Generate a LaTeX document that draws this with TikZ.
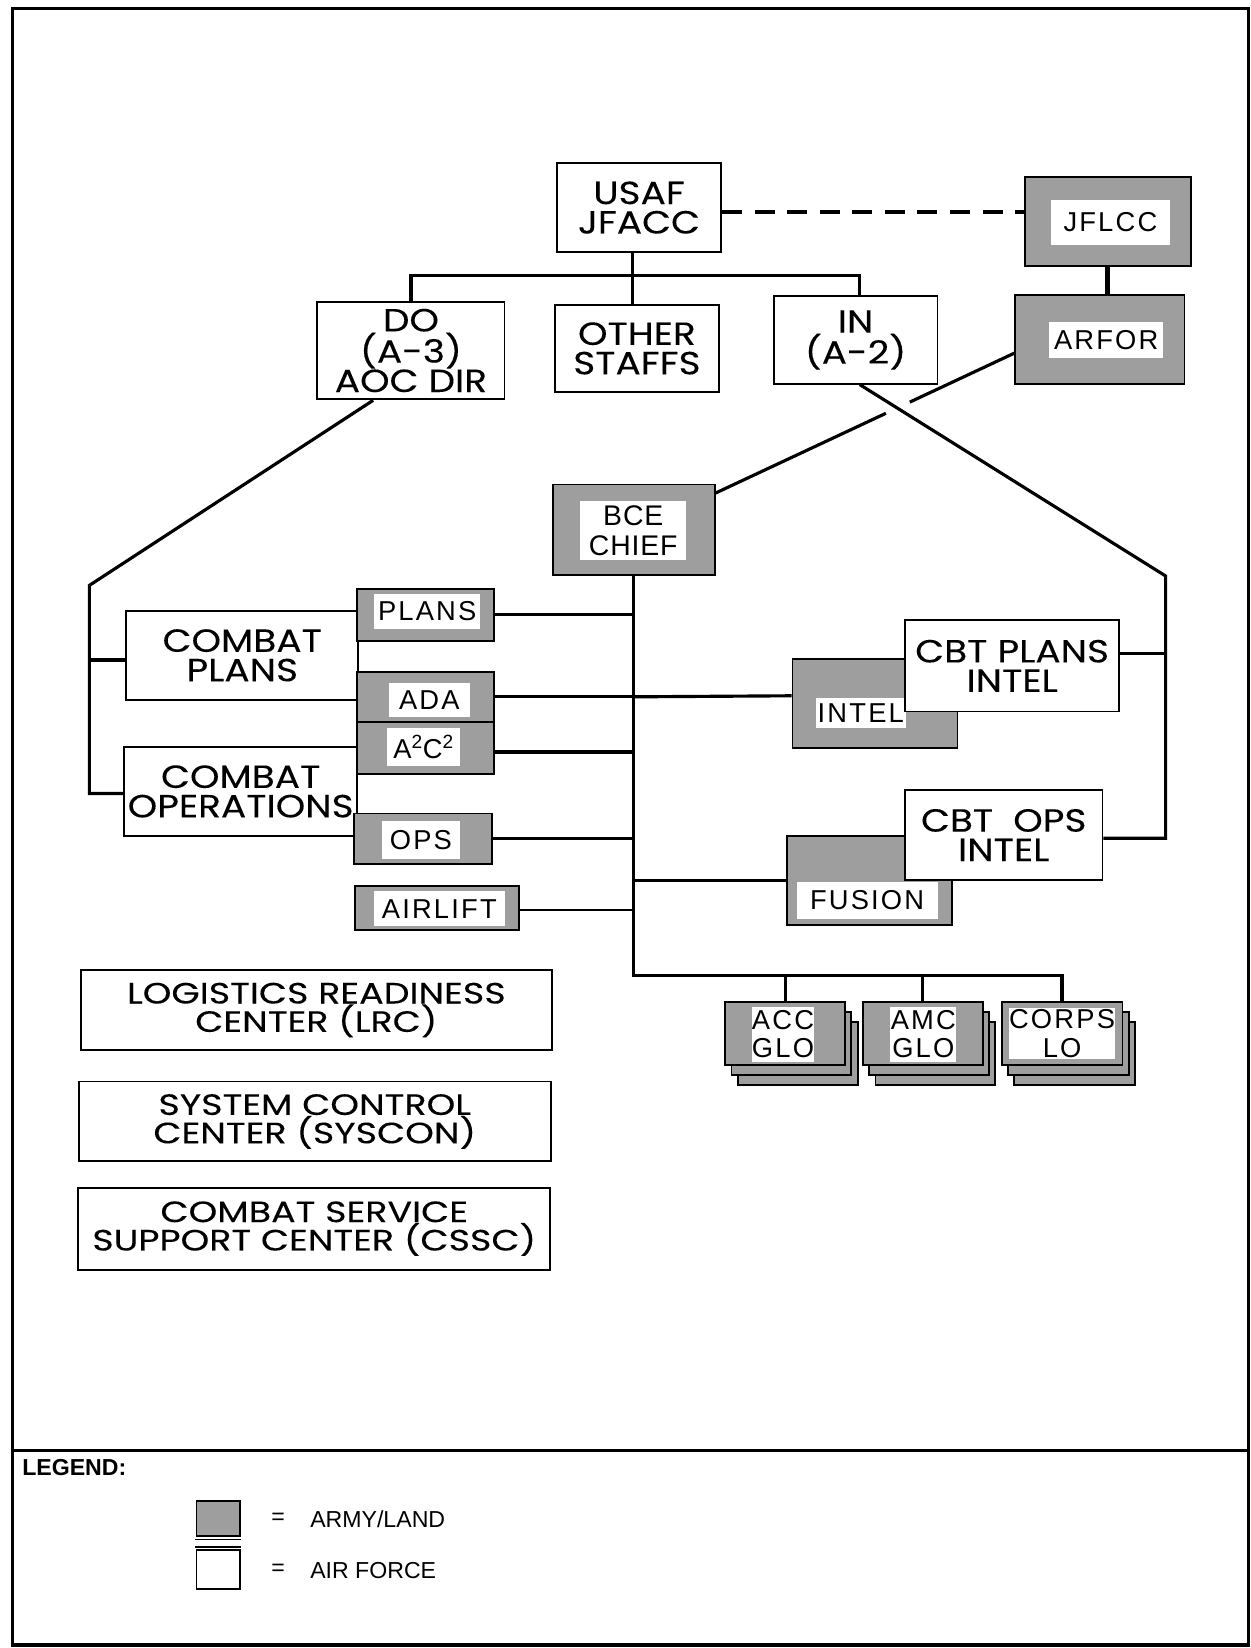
\documentclass[tikz,border=0pt]{standalone}
\usepackage{fontspec}
\newfontfamily\popf[FakeStretch=1.17, FakeBold=0.12]{Poppins}
\newfontfamily\popwf[FakeStretch=1.24, FakeBold=0.12]{Poppins}
\newfontfamily\arialf{Liberation Sans}
\newfontfamily\spacedf[LetterSpace=8]{Liberation Sans}
\newfontfamily\tightf[LetterSpace=3]{Liberation Sans}
\usetikzlibrary{calc}
\definecolor{shade}{gray}{0.62}
\tikzset{
  conn/.style={line width=3pt},
  thinconn/.style={line width=1.5pt},
  dashline/.style={line width=4pt, dash pattern=on 19pt off 12pt},
  afbox/.style={draw, line width=1.8pt, fill=white, inner sep=0pt, align=center,
    font=\popf\fontsize{30.5}{28}\selectfont},
  lowbox/.style={afbox, font=\popwf\fontsize{28}{27}\selectfont},
  armybox/.style={draw, line width=1.8pt, fill=shade, inner sep=0pt},
  armytext/.style={fill=white, inner sep=0pt, align=center,
    font=\spacedf\fontsize{26}{27}\selectfont},
  legtext/.style={inner sep=0pt, anchor=west, font=\arialf\fontsize{22}{24}\selectfont},
}
\begin{document}
\begin{tikzpicture}[x=1pt,y=-1pt]
\useasboundingbox (0,0) rectangle (1190,1568);
\fill[white] (0,0) rectangle (1190,1568);
% frame
\draw[line width=3.5pt] (12,8) rectangle (1188,1565);
\draw[line width=2.5pt] (12,1380) -- (1188,1380);

% ---- top level
\node[afbox, minimum width=156pt, minimum height=85pt] (usaf) at (608,197.5) {USAF\\JFACC};
\node[armybox, minimum width=158pt, minimum height=85pt] (jflcc) at (1054,210.5) {};
\node[armytext, minimum width=113pt, minimum height=43pt] (jflcct) at (1056.5,211.5) {JFLCC};
\node[armybox, minimum width=161pt, minimum height=84pt] (arfor) at (1046.5,323) {};
\node[armytext, minimum width=109pt, minimum height=35pt] (arfort) at (1052.5,323.5) {ARFOR};

\node[afbox, minimum width=178pt, minimum height=93pt] (do) at (391,333.5) {DO\\(A-3)\\AOC DIR};
\node[afbox, minimum width=156pt, minimum height=83pt] (other) at (606,331.5) {OTHER\\STAFFS};
\node[afbox, minimum width=156pt, minimum height=83pt] (in) at (814,323.5) {IN\\(A-2)};

% ---- BCE
\node[armybox, minimum width=154pt, minimum height=86pt] (bce) at (603,504) {};
\node[armytext, font=\tightf\fontsize{27}{28}\selectfont, minimum width=101pt, minimum height=56pt] (bcet) at (602.5,505) {BCE\\CHIEF};

% ---- left
\node[afbox, minimum width=221pt, minimum height=85pt] (cplans) at (230.5,623.5) {COMBAT\\PLANS};
\node[afbox, minimum width=222pt, minimum height=84pt] (cops) at (229,753) {COMBAT\\OPERATIONS};

\node[armybox, minimum width=130pt, minimum height=50pt] (plans) at (405,585) {};
\node[armytext, minimum width=101pt, minimum height=33pt] (planst) at (406.5,581.5) {PLANS};
\node[armybox, minimum width=130pt, minimum height=48pt] (ada) at (405,663) {};
\node[armytext, minimum width=77pt, minimum height=32pt] (adat) at (408.5,666) {ADA};
\node[armybox, minimum width=130pt, minimum height=49pt] (a2c2) at (405,711.5) {};
\node[armytext, minimum width=70pt, minimum height=36pt] (a2c2t) at (403,710.5) {A\textsuperscript{2}C\textsuperscript{2}};
\node[armybox, minimum width=131pt, minimum height=48pt] (ops) at (402.5,798) {};
\node[armytext, minimum width=75pt, minimum height=36pt] (opst) at (400.5,799) {OPS};
\node[armybox, minimum width=156pt, minimum height=42pt] (airlift) at (416,864) {};
\node[armytext, minimum width=125pt, minimum height=34pt] (airliftt) at (418,864.5) {AIRLIFT};

% ---- right
\node[armybox, minimum width=157pt, minimum height=85pt] (intel) at (832.5,669.5) {};
\node[armytext, minimum width=86pt, minimum height=29pt] (intelt) at (819,678.5) {INTEL};
\node[afbox, minimum width=204pt, minimum height=87pt] (cbtplans) at (963,633.5) {CBT PLANS\\INTEL};
\node[armybox, minimum width=157pt, minimum height=85pt] (fusion) at (827.5,837.5) {};
\node[armytext, minimum width=134pt, minimum height=35pt] (fusiont) at (825,856.5) {FUSION};
\node[afbox, minimum width=188pt, minimum height=85pt] (cbtops) at (955,794.5) {CBT~~OPS\\INTEL};

% ---- liaison stacks
\node[armybox, minimum width=114pt, minimum height=60pt] (accb2) at (759,1002) {};
\node[armybox, minimum width=114pt, minimum height=60pt] (accb1) at (753,992.5) {};
\node[armybox, minimum width=114pt, minimum height=60pt] (acc) at (747,983) {};
\node[armytext, minimum width=58pt, minimum height=52pt] (acct) at (745,984) {ACC\\GLO};
\node[armybox, minimum width=114pt, minimum height=60pt] (amcb2) at (890,1002) {};
\node[armybox, minimum width=114pt, minimum height=60pt] (amcb1) at (884,992.5) {};
\node[armybox, minimum width=114pt, minimum height=60pt] (amc) at (878,983) {};
\node[armytext, minimum width=63pt, minimum height=52pt] (amct) at (878.5,984) {AMC\\GLO};
\node[armybox, minimum width=115pt, minimum height=60pt] (corpsb2) at (1022.5,1002) {};
\node[armybox, minimum width=115pt, minimum height=60pt] (corpsb1) at (1016.5,992.5) {};
\node[armybox, minimum width=115pt, minimum height=60pt] (corps) at (1010.5,983) {};
\node[armytext, minimum width=97pt, minimum height=49pt] (corpst) at (1010.5,983.5) {CORPS\\LO};

% ---- support centers
\node[lowbox, minimum width=448pt, minimum height=76pt] (lrc) at (301,961) {LOGISTICS READINESS\\CENTER (LRC)};
\node[lowbox, minimum width=449pt, minimum height=76pt] (syscon) at (299.5,1067) {SYSTEM CONTROL\\CENTER (SYSCON)};
\node[lowbox, minimum width=449pt, minimum height=78pt] (cssc) at (299,1169) {COMBAT SERVICE\\SUPPORT CENTER (CSSC)};

% ---- connectors
\coordinate (bus) at (602,262);
\draw[conn] (usaf.south -| bus) -- (bus);
\draw[conn] (do.north) |- (bus) -| ([xshift=4pt]in.north);
\draw[conn] (bus) -- (bus |- other.north);
\draw[dashline] ([yshift=-4pt]usaf.east) -- ([yshift=-4pt]usaf.east -| jflcc.west);
\draw[line width=5pt] (jflcc.south) -- (jflcc.south |- arfor.north);

% ARFOR to BCE with a gap where the IN line crosses
\coordinate (arforpt) at ([yshift=-13pt]arfor.west);
\coordinate (bcept) at ([yshift=-9pt]bce.north east);
\draw[conn] (arforpt) -- ($(arforpt)!0.35!(bcept)$);
\draw[conn] ($(arforpt)!0.43!(bcept)$) -- (bcept);

% IN to the intel cells
\coordinate (rc) at (1109,548);
\draw[conn] ([xshift=4pt]in.south) -- (rc) |- ([yshift=-3pt]cbtops.east);
\draw[conn] ([yshift=12pt]cbtplans.east) -- ([yshift=12pt]cbtplans.east -| rc);

% DO to combat plans / operations
\coordinate (lc) at (85,557);
\draw[conn] ([xshift=-36pt]do.south) -- (lc) |- ([yshift=-2pt]cops.west);
\draw[conn] ([yshift=-4.5pt]cplans.west) -- ([yshift=-4.5pt]cplans.west -| lc);

% BCE trunk
\coordinate (trunkend) at (bce.south |- 0,928);
\draw[conn] (bce.south) -- (trunkend) -| (corps.north);
\draw[conn] (acc.north) -- (acc.north |- trunkend);
\draw[conn] (amc.north) -- (amc.north |- trunkend);
\draw[conn] (plans.east) -- (plans.east -| bce.south);
\draw[conn] (ada.east) -- (ada.east -| bce.south);
\draw[conn] (bce.south |- ada.east) -- ([yshift=1pt]intel.west |- ada.east);
\draw[conn] ([yshift=-4pt]a2c2.east) -- ([yshift=-4pt]a2c2.east -| bce.south);
\draw[conn] (ops.east) -- (ops.east -| bce.south);
\draw[thinconn] ([yshift=-2pt]airlift.east) -- ([yshift=-2pt]airlift.east -| bce.south);
\draw[conn] (fusion.west -| bce.south) -- (fusion.west);

% ---- legend
\node[inner sep=0pt, anchor=west, font=\arialf\bfseries\fontsize{22}{24}\selectfont] (legend) at (21,1396) {LEGEND:};
\node[armybox, minimum width=41pt, minimum height=33pt] (legarmy) at (207.5,1444.5) {};
\draw[line width=1.2pt] (186,1465) -- (229,1465);
\draw[line width=1.2pt] (186,1472) -- (229,1472);
\node[draw, line width=1.8pt, fill=white, minimum width=41pt, minimum height=37pt, inner sep=0pt] (legaf) at (207.5,1493.5) {};
\node[legtext] (eq1) at (258,1445) {=};
\node[legtext] (armyland) at (295,1445) {ARMY/LAND};
\node[legtext] (eq2) at (258,1494) {=};
\node[legtext] (airforce) at (295,1494) {AIR FORCE};
\end{tikzpicture}
\end{document}
